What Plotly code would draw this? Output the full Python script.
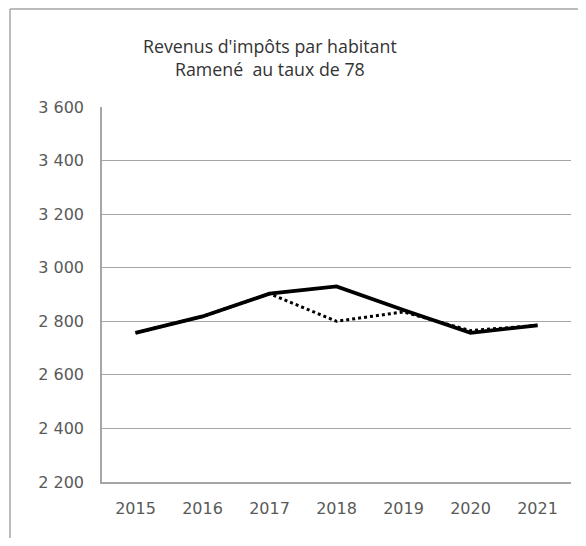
import plotly.graph_objects as go

# Données
annees = ["2015", "2016", "2017", "2018", "2019", "2020", "2021"]
revenus_plein = [2757, 2818, 2903, 2930, 2842, 2757, 2785]
revenus_pointille = [2757, 2818, 2903, 2800, 2835, 2765, 2785]
ticks_y = [2200, 2400, 2600, 2800, 3000, 3200, 3400, 3600]

# la page ajoute une marge de 8 px autour de la figure
W, H = 570, 530
L, R, T, B = 94, 7, 99, 56
pw = W - L - R
ph = H - T - B

fig = go.Figure()
fig.add_trace(go.Scatter(
    x=annees, y=revenus_pointille, mode="lines",
    line=dict(color="black", width=3, dash="dot"),
))
fig.add_trace(go.Scatter(
    x=annees, y=revenus_plein, mode="lines",
    line=dict(color="black", width=3.8),
))


def px_x(v):
    return (v - L) / pw


def px_y(v):
    return 1 - (v - T) / ph


# Cadre du graphique (haut et gauche visibles)
cadre = dict(type="line", xref="paper", yref="paper",
             line=dict(color="#a6a6a6", width=1.5))
fig.add_shape(**cadre, x0=px_x(2), x1=px_x(W + 20), y0=px_y(1), y1=px_y(1))
fig.add_shape(**cadre, x0=px_x(2), x1=px_x(2), y0=px_y(1), y1=px_y(H + 20))

fig.add_annotation(
    text="Revenus d'impôts par habitant<br>Ramené  au taux de 78",
    xref="paper", yref="paper", x=px_x(262), y=px_y(50),
    showarrow=False, font=dict(size=17.8, color="#333333", family="Open Sans"),
    align="center", yanchor="middle",
)

fig.update_layout(
    width=W, height=H,
    margin=dict(l=L, r=R, t=T, b=B),
    paper_bgcolor="white", plot_bgcolor="white",
    showlegend=False,
    separators=", ",
    font=dict(family="DejaVu Sans", size=16, color="#595959"),
    xaxis=dict(
        type="category", showgrid=False, showline=True,
        linecolor="#a6a6a6", linewidth=1.5, ticks="",
        ticklabelstandoff=11, range=[-0.5, 6.5],
    ),
    yaxis=dict(
        range=[2200, 3600], tickvals=ticks_y, tickformat=",d",
        showgrid=True, gridcolor="#a6a6a6", gridwidth=1.2,
        showline=True, linecolor="#a6a6a6", linewidth=1.5,
        ticks="", ticklabelstandoff=13, zeroline=False,
    ),
)

fig.write_html("out.html")
